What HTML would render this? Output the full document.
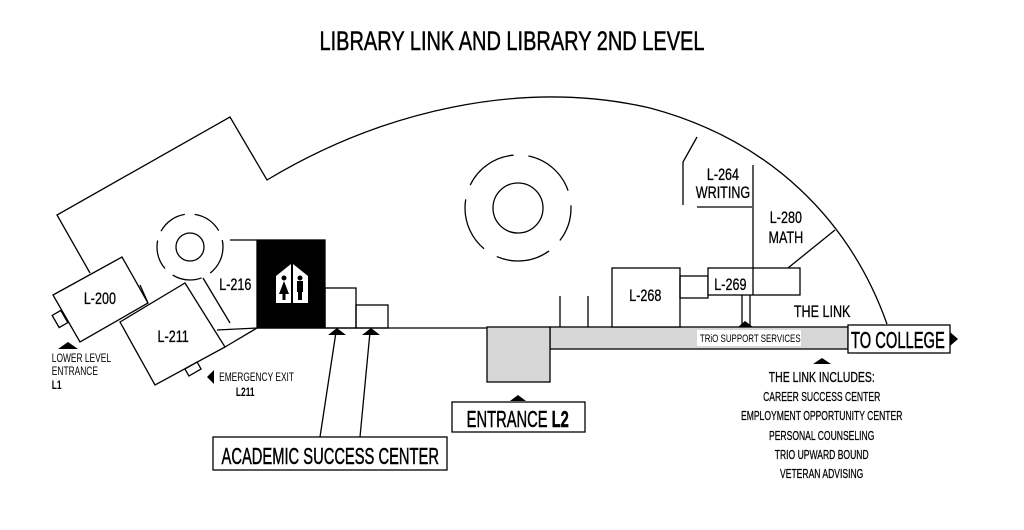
<!DOCTYPE html>
<html><head><meta charset="utf-8"><style>
html,body{margin:0;padding:0;background:#fff;}
svg{display:block}
text{font-family:"Liberation Sans",sans-serif;fill:#000}
.b{stroke:#000;stroke-width:0.5}
</style></head><body>
<svg width="1024" height="530" viewBox="0 0 1024 530" xmlns="http://www.w3.org/2000/svg">
<g stroke="#000" stroke-width="1.3" fill="none">
<path d="M90,273 L57,215 L230,117 L267,180 C380,112 520,78 650,108 C770,140 850,220 887,324"/>
<polygon points="53,295 122,257 148,303 80,342" fill="#fff"/>
<rect x="55" y="312" width="10" height="14" transform="rotate(-30 60 319)"/>
<polygon points="120,322 185,283 225,347 155,385" fill="#fff"/>
<rect x="186" y="365" width="14" height="8" transform="rotate(-30 193 369)"/>
<line x1="140" y1="285" x2="148" y2="303"/>
<line x1="203" y1="278" x2="230" y2="323"/>
<line x1="217" y1="330" x2="257" y2="328"/>
<line x1="225" y1="347" x2="257" y2="328"/>
<line x1="230" y1="240" x2="257" y2="240"/>
<circle cx="190" cy="247" r="14"/>
<circle cx="190" cy="247" r="33" stroke-dasharray="30 10"/>
<rect x="257" y="240" width="68" height="88" fill="#000"/>
<rect x="325" y="288" width="31" height="40"/>
<rect x="356" y="305" width="32" height="23"/>
<line x1="257" y1="328" x2="487" y2="328"/>
<circle cx="518" cy="208" r="25"/>
<circle cx="518" cy="208" r="53" stroke-dasharray="55 15" stroke-dashoffset="20"/>
<line x1="560" y1="296" x2="560" y2="327"/>
<line x1="588" y1="296" x2="588" y2="327"/>
<rect x="550" y="327" width="298" height="22" fill="#d7d7d7"/>
<rect x="487" y="327" width="63" height="55" fill="#d7d7d7"/>
<rect x="612" y="268" width="68" height="59" fill="#fff"/>
<rect x="680" y="276" width="28" height="22"/>
<rect x="708" y="268" width="92" height="27" fill="#fff"/>
<polyline points="742,295 742,325 750,325 750,295"/>
<line x1="753" y1="165" x2="753" y2="295"/>
<polyline points="697,137 683,162 683,205"/>
<line x1="697" y1="207" x2="752" y2="207"/>
<line x1="788" y1="268" x2="835" y2="230"/>
<rect x="848" y="325" width="102" height="28" fill="#fff"/>
<rect x="452" y="402" width="133" height="30" fill="#fff"/>
<rect x="213" y="437" width="234" height="33" fill="#fff"/>
<line x1="320" y1="437" x2="336" y2="332"/>
<line x1="360" y1="437" x2="370" y2="332"/>
</g>
<polygon points="276,276 291,264 291,303 276,303" fill="#fff"/>
<polygon points="293,264 308,276 308,303 293,303" fill="#fff"/>
<circle cx="284" cy="278" r="2.5"/><polygon points="284,281 279,294 289,294"/><rect x="282.5" y="293" width="3" height="7"/>
<circle cx="300" cy="278" r="2.5"/><rect x="297" y="281" width="6" height="11"/><rect x="298" y="291" width="4" height="9"/>
<g fill="#000">
<polygon points="328,335 337,328 346,335"/>
<polygon points="362,335 371,328 380,335"/>
<polygon points="58,349 68,342 78,349"/>
<polygon points="207,377 214,370 214,384"/>
<polygon points="510,401 518,395 526,401"/>
<polygon points="738,327 745,321 753,327"/>
<polygon points="813,364 822,358 831,364"/>
<polygon points="950,332 958,339 950,346"/>
</g>
<rect x="697" y="330" width="104" height="16" fill="#fff"/>
<g text-anchor="middle">
<text class="b" x="512" y="50" font-size="27" transform="translate(512 0) scale(0.74 1) translate(-512 0)">LIBRARY LINK AND LIBRARY 2ND LEVEL</text>
<g font-size="17" transform="scale(0.74 1)" class="b" style="stroke-width:0.3">
<text x="135" y="304">L-200</text>
<text x="234" y="342">L-211</text>
<text x="318" y="290">L-216</text>
<text x="872" y="301">L-268</text>
<text x="987" y="290">L-269</text>
<text x="977" y="180">L-264</text>
<text x="977" y="198">WRITING</text>
<text x="1062" y="223">L-280</text>
<text x="1062" y="243">MATH</text>
<text x="1111" y="317">THE LINK</text>
</g>
<g font-size="11" transform="scale(0.72 1)">
<text x="1042" y="342">TRiO SUPPORT SERVICES</text>
</g>
<g font-size="23" transform="scale(0.64 1)" class="b">
<text x="1403" y="348">TO COLLEGE</text>
<text x="516" y="464">ACADEMIC SUCCESS CENTER</text>
<text x="809" y="427">ENTRANCE <tspan font-weight="bold">L2</tspan></text>
</g>
<g font-size="15" transform="scale(0.7 1)" class="b" style="stroke-width:0.3">
<text x="1174" y="382">THE LINK INCLUDES:</text>
</g>
<g font-size="13" transform="scale(0.66 1)" class="b" style="stroke-width:0.25">
<text x="1245" y="401">CAREER SUCCESS CENTER</text>
<text x="1245" y="420">EMPLOYMENT OPPORTUNITY CENTER</text>
<text x="1245" y="440">PERSONAL COUNSELING</text>
<text x="1245" y="459">TRIO UPWARD BOUND</text>
<text x="1245" y="478">VETERAN ADVISING</text>
</g>
</g>
<g font-size="12" transform="scale(0.7 1)">
<text x="74" y="362">LOWER LEVEL</text>
<text x="74" y="375">ENTRANCE</text>
<text x="74" y="389" font-weight="bold">L1</text>
<text x="313" y="381">EMERGENCY EXIT</text>
<text x="337" y="396" font-weight="bold">L211</text>
</g>
</svg>
</body></html>
